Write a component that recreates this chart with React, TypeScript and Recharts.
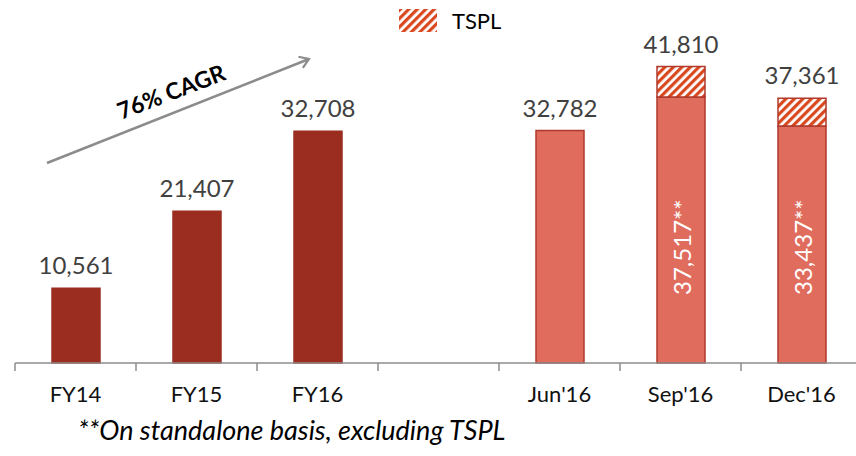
import { BarChart, Bar, XAxis, YAxis, LabelList, Cell } from "recharts";

const categories = ["FY14", "FY15", "FY16", " ", "Jun'16", "Sep'16", "Dec'16"];
const standalone = [10561, 21407, 32708, null, 32782, 37517, 33437];
const tsplValues = [null, null, null, null, null, 4293, 3924];
const totals = [10561, 21407, 32708, null, 32782, 41810, 37361];
const insideLabels = [null, null, null, null, null, "37,517**", "33,437**"];
const isQuarter = [false, false, false, false, true, true, true];

const data = categories.map((name, i) => ({
  name,
  standalone: standalone[i],
  tspl: tsplValues[i],
  // label above the bar only when no TSPL segment sits on top
  soloTop: tsplValues[i] == null ? totals[i] : null,
  total: tsplValues[i] != null ? totals[i] : null,
  inside: insideLabels[i],
}));

const FONT = "Lato, 'Open Sans', sans-serif";
const fmt = (v: number) => v.toLocaleString("en-US");

const TopLabel = (props: any) => {
  const { x, y, width, value } = props;
  if (value == null) return null;
  return (
    <text
      x={x + width / 2}
      y={y - 14}
      textAnchor="middle"
      fontFamily={FONT}
      fontSize={24}
      fill="#404040"
    >
      {fmt(Number(value))}
    </text>
  );
};

const InsideLabel = (props: any) => {
  const { x, y, width, height, value } = props;
  if (value == null) return null;
  const cx = x + width / 2;
  const cy = y + height - 68;
  return (
    <text
      x={cx}
      y={cy}
      transform={`rotate(-90 ${cx} ${cy})`}
      textAnchor="start"
      dominantBaseline="central"
      fontFamily={FONT}
      fontSize={24}
      fill="#ffffff"
    >
      {value}
    </text>
  );
};

const HALF_BAND = 60.5;

const Tick = (props: any) => {
  const { x, y, payload } = props;
  return (
    <g>
      <line x1={x - HALF_BAND} y1={y} x2={x - HALF_BAND} y2={y + 8} stroke="#8c8c8c" strokeWidth={1.5} />
      <text x={x} y={y + 39} textAnchor="middle" fontFamily={FONT} fontSize={22} fill="#111">
        {payload.value}
      </text>
    </g>
  );
};

export default function App() {
  return (
    <div
      style={{
        position: "absolute",
        left: 0,
        top: 0,
        width: 856,
        height: 456,
        overflow: "hidden",
        background: "#fff",
      }}
    >
      <BarChart
        width={862}
        height={456}
        data={data}
        margin={{ top: 44, right: 0, left: 15, bottom: 63 }}
        barSize={48}
      >
        <XAxis
          dataKey="name"
          height={30}
          tickLine={false}
          tickSize={0}
          tickMargin={0}
          axisLine={{ stroke: "#8c8c8c", strokeWidth: 1.5 }}
          tick={<Tick />}
          interval={0}
        />
        <YAxis hide domain={[0, 45000]} />
        <Bar dataKey="standalone" stackId="a" isAnimationActive={false}>
          {data.map((d, i) => (
            <Cell
              key={d.name}
              fill={isQuarter[i] ? "#E06C5E" : "#9B2D20"}
              stroke={isQuarter[i] ? "#B0392B" : "#9B2D20"}
              strokeWidth={1.5}
            />
          ))}
          <LabelList dataKey="soloTop" content={<TopLabel />} />
          <LabelList dataKey="inside" content={<InsideLabel />} />
        </Bar>
        <Bar
          dataKey="tspl"
          stackId="a"
          fill="url(#tsplHatch)"
          stroke="#B0392B"
          strokeWidth={1.5}
          isAnimationActive={false}
        >
          <LabelList dataKey="total" content={<TopLabel />} />
        </Bar>
      </BarChart>

      <svg
        width={856}
        height={456}
        style={{ position: "absolute", left: 0, top: 0, pointerEvents: "none" }}
      >
        <defs>
          <pattern
            id="tsplHatch"
            width={6}
            height={6}
            patternUnits="userSpaceOnUse"
            patternTransform="rotate(45)"
          >
            <rect width={6} height={6} fill="#ffffff" />
            <rect width={3.2} height={6} fill="#D9481F" />
          </pattern>
          <marker
            id="openArrow"
            markerWidth={14}
            markerHeight={14}
            refX={10}
            refY={7}
            orient="auto"
            markerUnits="userSpaceOnUse"
          >
            <polyline points="1,1 10,7 1,13" fill="none" stroke="#8c8c8c" strokeWidth={2.2} />
          </marker>
        </defs>

        {/* legend */}
        <rect x={399} y={9} width={38} height={23} fill="url(#tsplHatch)" />
        <text x={452} y={29} fontFamily={FONT} fontSize={22} fill="#000">
          TSPL
        </text>

        {/* growth arrow */}
        <line
          x1={47}
          y1={163}
          x2={309}
          y2={59}
          stroke="#8c8c8c"
          strokeWidth={2.5}
          markerEnd="url(#openArrow)"
        />
        <text
          x={171}
          y={91}
          transform="rotate(-21 171 91)"
          textAnchor="middle"
          dominantBaseline="central"
          fontFamily={FONT}
          fontWeight="bold"
          fontSize={23}
          fill="#000"
        >
          76% CAGR
        </text>

        {/* footnote */}
        <text x={78} y={440} fontFamily={FONT} fontStyle="italic" fontSize={27} fill="#000">
          **On standalone basis, excluding TSPL
        </text>
      </svg>
    </div>
  );
}
